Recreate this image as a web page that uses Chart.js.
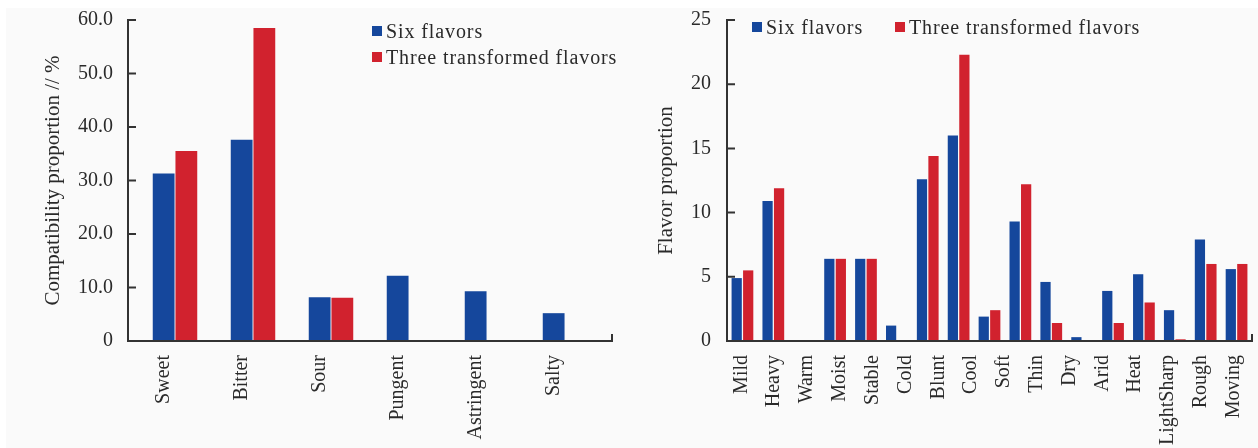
<!DOCTYPE html>
<html>
<head>
<meta charset="utf-8">
<script src="https://cdn.jsdelivr.net/npm/chart.js@4/dist/chart.umd.min.js"></script>
<style>
  html, body { margin: 0; padding: 0; background: #fff; }
  #page { position: relative; width: 1258px; height: 448px; overflow: hidden; }
  #panel { position: absolute; left: 6px; top: 8px; right: 0; bottom: 0; background: #fafafa; }
  .box { position: absolute; top: 0; width: 629px; height: 448px; }
  .legend-item { position: absolute; height: 26px; display: flex; align-items: center;
    font-family: "Liberation Serif", serif; font-size: 20px; letter-spacing: 0.9px;
    color: #2a2a2a; white-space: nowrap; }
  .legend-item span.sw { display: inline-block; width: 10px; height: 10px; margin-right: 4px; }
</style>
</head>
<body>
<div id="page">
  <div id="panel"></div>
  <div class="box" style="left:0"><canvas id="compatChart" width="629" height="448"></canvas></div>
  <div class="box" style="left:629px"><canvas id="flavorChart" width="629" height="448"></canvas></div>
  <div id="legends"></div>
</div>
<script>
// Left chart data
const tasteCategories = ['Sweet', 'Bitter', 'Sour', 'Pungent', 'Astringent', 'Salty'];
const tasteSix = [31.3, 37.6, 8.2, 12.2, 9.3, 5.2];
const tasteTransformed = [35.5, 58.5, 8.1, 0, 0, 0];
const tasteTicks = [0, 10, 20, 30, 40, 50, 60];

// Right chart data (17 bar groups, 16 printed labels)
const effectCategories = ['Mild', 'Heavy', 'Warm', 'Moist', 'Stable', 'Cold', 'Blunt', 'Cool', 'Soft',
  'Thin', 'Dry', 'Arid', 'Heat', 'Light', 'Sharp', 'Rough', 'Moving'];
const effectAxisLabels = ['Mild', 'Heavy', 'Warm', 'Moist', 'Stable', 'Cold', 'Blunt', 'Cool', 'Soft',
  'Thin', 'Dry', 'Arid', 'Heat', 'LightSharp', 'Rough', 'Moving'];
const effectSix = [4.9, 10.9, 0, 6.4, 6.4, 1.2, 12.6, 16.0, 1.9, 9.3, 4.6, 0.3, 3.9, 5.2, 2.4, 7.9, 5.6];
const effectTransformed = [5.5, 11.9, 0, 6.4, 6.4, 0, 14.4, 22.3, 2.4, 12.2, 1.4, 0, 1.4, 3.0, 0.13, 6.0, 6.0];
const effectTicks = [0, 5, 10, 15, 20, 25];

const seriesNames = ['Six flavors', 'Three transformed flavors'];
const seriesColors = ['#15479c', '#d1222e'];

const FONT = "'Liberation Serif', serif";
const TEXT = '#2a2a2a';

// draws the axis lines with inward ticks, like the original figure
const axisPlugin = {
  id: 'axisLines',
  afterDraw(chart, args, opts) {
    const ctx = chart.ctx;
    const a = chart.chartArea;
    const y = chart.scales.y;
    const inset = opts.inset || 0;
    const x0 = a.left - inset, x1 = a.right + inset;
    ctx.save();
    ctx.strokeStyle = '#333';
    ctx.lineWidth = 2;
    ctx.beginPath();
    ctx.moveTo(x0, a.top - 1);
    ctx.lineTo(x0, a.bottom);
    ctx.lineTo(x1, a.bottom);
    ctx.lineTo(x1, a.bottom - 7);
    y.ticks.forEach(t => {
      const py = y.getPixelForValue(t.value);
      ctx.moveTo(x0, py);
      ctx.lineTo(x0 + 8, py);
    });
    ctx.stroke();
    ctx.restore();
  }
};

function makeDatasets(six, transformed, bp, cp) {
  return [six, transformed].map((values, i) => ({
    label: seriesNames[i],
    data: values,
    backgroundColor: seriesColors[i],
    borderWidth: 0,
    barPercentage: bp,
    categoryPercentage: cp
  }));
}

function yAxis(ticks, title, width, tickPad, titlePad, fmt) {
  return {
    min: ticks[0],
    max: ticks[ticks.length - 1],
    afterBuildTicks(scale) { scale.ticks = ticks.map(v => ({ value: v })); },
    afterFit(scale) {
      scale.width = width;
      scale.paddingTop = 0;
      scale.paddingBottom = 0;
    },
    grid: { display: false, drawTicks: false },
    border: { display: false },
    ticks: { color: TEXT, font: { family: FONT, size: 20 }, padding: tickPad, callback: fmt },
    title: { display: true, text: title, color: TEXT, font: { family: FONT, size: 21 },
      padding: { top: titlePad, bottom: 0 } }
  };
}

function labelAxis(extra, labelOffset) {
  return Object.assign({
    afterFit(scale) {
      scale.height = 107;
      scale.paddingLeft = 0;
      scale.paddingRight = 0;
    },
    grid: { display: false, drawTicks: false },
    border: { display: false },
    ticks: { color: TEXT, font: { family: FONT, size: 20 }, minRotation: 90, maxRotation: 90,
      autoSkip: false, padding: 14, labelOffset: labelOffset }
  }, extra);
}

// Left: compatibility proportion
new Chart(document.getElementById('compatChart'), {
  type: 'bar',
  data: { labels: tasteCategories, datasets: makeDatasets(tasteSix, tasteTransformed, 0.96, 0.582) },
  options: {
    responsive: false,
    animation: false,
    layout: { padding: { left: 0, right: 25, top: 20, bottom: 0 } },
    plugins: { legend: { display: false }, tooltip: { enabled: false }, axisLines: { inset: 8 } },
    scales: {
      x: labelAxis({}, -11),
      y: yAxis(tasteTicks, 'Compatibility proportion // %', 136, 23, 41,
        v => v === 0 ? '0' : v.toFixed(1))
    }
  },
  plugins: [axisPlugin]
});

// Right: flavor proportion
new Chart(document.getElementById('flavorChart'), {
  type: 'bar',
  data: { labels: effectCategories, datasets: makeDatasets(effectSix, effectTransformed, 0.89, 0.745) },
  options: {
    responsive: false,
    animation: false,
    layout: { padding: { left: 0, right: 6, top: 20, bottom: 0 } },
    plugins: { legend: { display: false }, tooltip: { enabled: false }, axisLines: { inset: 0 } },
    scales: {
      x: { display: false },
      x2: labelAxis({ type: 'category', labels: effectAxisLabels, position: 'bottom', offset: true }, -2),
      y: yAxis(effectTicks, 'Flavor proportion', 98, 16, 25, v => String(v))
    }
  },
  plugins: [axisPlugin]
});

// Legends
const legendSpots = [
  [{ left: 372, top: 18 }, { left: 372, top: 44 }],
  [{ left: 752, top: 14 }, { left: 895, top: 14 }]
];
const legendsEl = document.getElementById('legends');
legendSpots.forEach(spots => {
  spots.forEach((pos, i) => {
    const item = document.createElement('div');
    item.className = 'legend-item';
    item.style.left = pos.left + 'px';
    item.style.top = pos.top + 'px';
    const sw = document.createElement('span');
    sw.className = 'sw';
    sw.style.background = seriesColors[i];
    item.appendChild(sw);
    item.appendChild(document.createTextNode(seriesNames[i]));
    legendsEl.appendChild(item);
  });
});
</script>
</body>
</html>
